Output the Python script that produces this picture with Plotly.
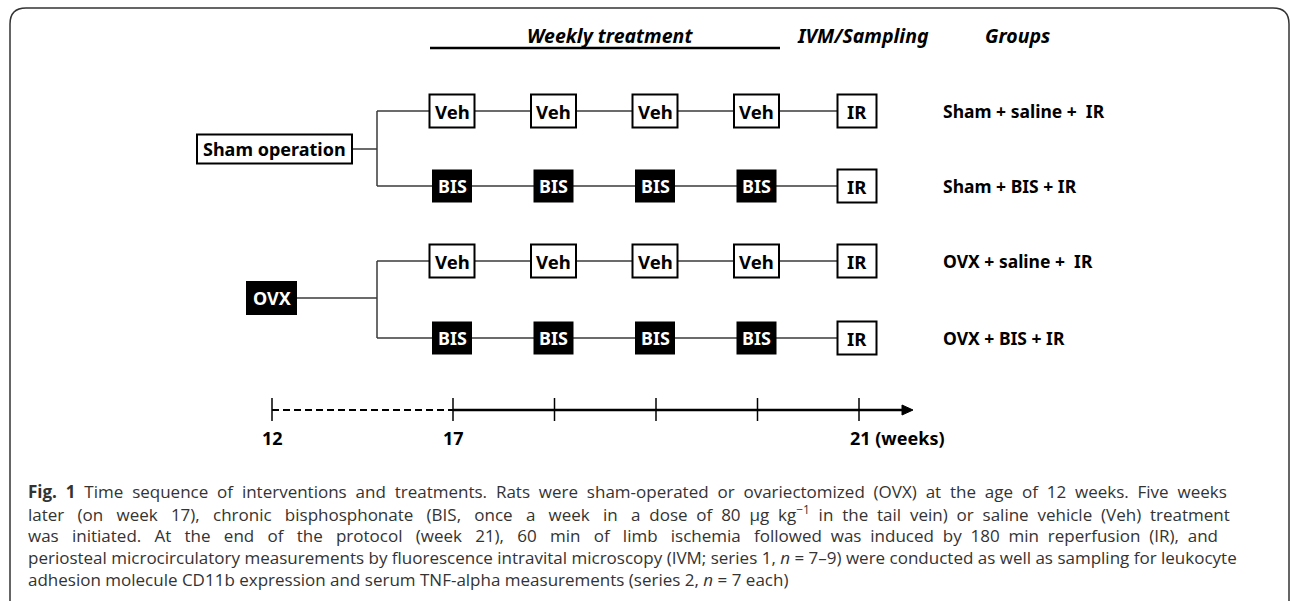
import plotly.graph_objects as go

# data
groups = ["Sham + saline +  IR", "Sham + BIS + IR", "OVX + saline +  IR", "OVX + BIS + IR"]
treatments = ["Veh", "BIS", "Veh", "BIS"]
surgeries = ["Sham operation", "OVX"]
treat_weeks = [17, 18, 19, 20]
sample_week = 21
sample_label = "IR"
timeline_weeks = [12, 17, 18, 19, 20, 21]
timeline_labels = ["12", "17", "", "", "", "21 (weeks)"]
headers = ["Weekly treatment", "IVM/Sampling", "Groups"]
caption = [
    "<b>Fig. 1</b> Time sequence of interventions and treatments. Rats were sham-operated or ovariectomized (OVX) at the age of 12 weeks. Five weeks",
    "later (on week 17), chronic bisphosphonate (BIS, once a week in a dose of 80 µg kg<sup>−1</sup> in the tail vein) or saline vehicle (Veh) treatment",
    "was initiated. At the end of the protocol (week 21), 60 min of limb ischemia followed was induced by 180 min reperfusion (IR), and",
    "periosteal microcirculatory measurements by fluorescence intravital microscopy (IVM; series 1, <i>n</i> = 7–9) were conducted as well as sampling for leukocyte",
    "adhesion molecule CD11b expression and serum TNF-alpha measurements (series 2, <i>n</i> = 7 each)",
]

# layout (pixel frame)
W, H = 1290, 601
row_y = [111, 186, 261, 338]
surg_y = [149, 298]
branch_x = 377
timeline_y = 410
FONT = "Noto Sans, Open Sans, Roboto, sans-serif"
LINE = "#3a3a3a"
# extra spaces per caption line to imitate the justified paragraph
caption_pad = [21, 36, 38, 0, 0]


def wx(w):
    # week -> x pixel; weeks 12-17 are compressed (dashed part)
    if w <= 17:
        return 272 + (w - 12) * (453 - 272) / 5
    return 453 + (w - 17) * 101.5


def justify(line, extra):
    words = line.split(" ")
    gaps = len(words) - 1
    if extra <= 0 or gaps <= 0:
        return line
    base, rem = divmod(extra, gaps)
    out = words[0]
    for i, wd in enumerate(words[1:]):
        out += " " * (1 + base + (1 if i < rem else 0)) + wd
    return out


fig = go.Figure()
shapes = []
annos = []


def box(xc, yc, w, h, text, filled, size=18):
    shapes.append(dict(type="rect", x0=xc - w / 2, x1=xc + w / 2, y0=yc - h / 2, y1=yc + h / 2,
                       line=dict(color="black", width=2),
                       fillcolor="black" if filled else "white", layer="above"))
    annos.append(dict(x=xc, y=yc, text=f"<b>{text}</b>", showarrow=False,
                      font=dict(family=FONT, size=size, color="white" if filled else "black"),
                      xanchor="center", yanchor="middle"))


def hline(x0, x1, y, width=1.5, color=LINE, dash="solid"):
    shapes.append(dict(type="line", x0=x0, x1=x1, y0=y, y1=y, line=dict(color=color, width=width, dash=dash)))


def vline(x, y0, y1, width=1.5, color=LINE):
    shapes.append(dict(type="line", x0=x, x1=x, y0=y0, y1=y1, line=dict(color=color, width=width)))


# frame
shapes.append(dict(type="path", path="M 10,620 L 10,24 Q 10,8 26,8 L 1273,8 Q 1289,8 1289,24 L 1289,620",
                   line=dict(color="#333333", width=1.5)))

# headers
hx = [610, 863, 1017]
for t, x in zip(headers, hx):
    annos.append(dict(x=x, y=35, text=f"<b><i>{t}</i></b>", showarrow=False,
                      font=dict(family=FONT, size=19.5, color="black"), xanchor="center", yanchor="middle"))
hline(430, 780, 48, width=2.5, color="black")

# surgery boxes + branches
surg_box = [(274.5, 155, 29, False), (271.5, 49, 32, True)]
for i, (s, (xc, w, h, filled)) in enumerate(zip(surgeries, surg_box)):
    y = surg_y[i]
    ya, yb = row_y[2 * i], row_y[2 * i + 1]
    hline(xc + w / 2, branch_x, y)
    vline(branch_x, ya, yb)
    box(xc, y, w, h, s, filled, size=18)

# rows
for r, (g, t) in enumerate(zip(groups, treatments)):
    y = row_y[r]
    xs = [wx(w) - 1 for w in treat_weeks] + [wx(sample_week) - 2]
    hline(branch_x, xs[-1], y)
    for x in xs[:-1]:
        if t == "Veh":
            box(x, y, 45, 33, t, False, size=18.5)
        else:
            box(x, y, 38, 31, t, True, size=18)
    box(xs[-1], y, 39, 33, sample_label, False, size=18.5)
    annos.append(dict(x=941, y=y, text=f"<b>{g}</b>", showarrow=False,
                      font=dict(family=FONT, size=17.5, color="black"), xanchor="left", yanchor="middle"))

# timeline
x12, x17 = wx(12), wx(17)
hline(x12, x17, timeline_y, width=2, color="black", dash="7px,4px")
hline(x17, 904, timeline_y, width=2.5, color="black")
shapes.append(dict(type="path", path=f"M 902,{timeline_y - 5} L 913,{timeline_y} L 902,{timeline_y + 5} Z",
                   fillcolor="black", line=dict(color="black", width=1)))
for w, lab in zip(timeline_weeks, timeline_labels):
    x = wx(w)
    vline(x, timeline_y - 12, timeline_y + 11, width=1.5, color="black")
    if lab:
        is_last = lab.startswith("21")
        annos.append(dict(x=x - 11 if is_last else x, y=438, text=f"<b>{lab}</b>", showarrow=False,
                          font=dict(family=FONT, size=18, color="black"),
                          xanchor="left" if is_last else "center", yanchor="middle"))

# caption
for i, line in enumerate(caption):
    annos.append(dict(x=26, y=491 + i * 22, text=justify(line, caption_pad[i]), showarrow=False,
                      font=dict(family="Open Sans, Noto Sans, sans-serif", size=17, color="#333333"),
                      xanchor="left", yanchor="middle"))

fig.update_layout(
    width=W, height=H,
    margin=dict(l=0, r=0, t=0, b=0),
    paper_bgcolor="white", plot_bgcolor="white",
    xaxis=dict(range=[0, W], visible=False, fixedrange=True),
    yaxis=dict(range=[H, 0], visible=False, fixedrange=True),
    shapes=shapes, annotations=annos, showlegend=False,
)

fig.write_html("out.html", config={"displayModeBar": False},
               post_script="document.body.style.margin='0';")
